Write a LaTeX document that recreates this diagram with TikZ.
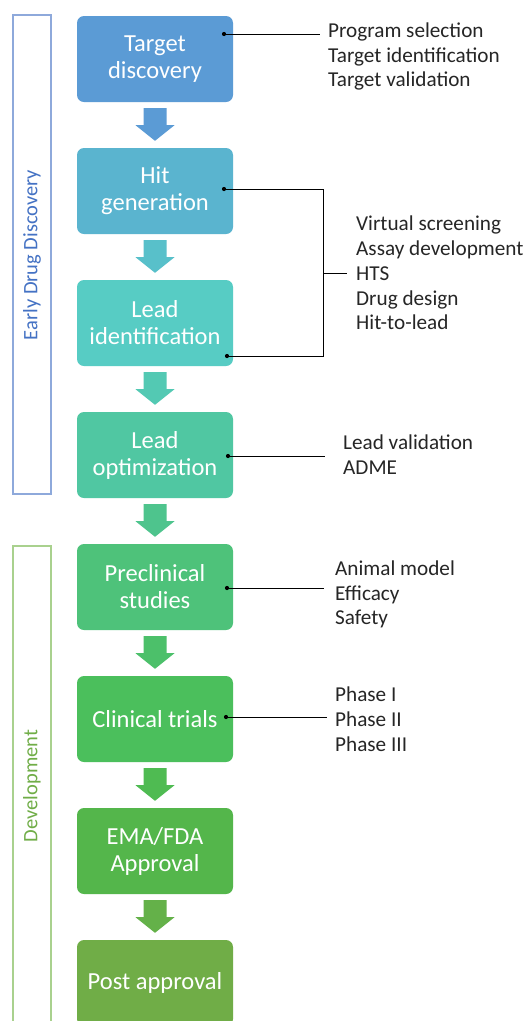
\documentclass[tikz,border=0pt]{standalone}
\usepackage{fontspec}
\setmainfont{Carlito}
\usetikzlibrary{calc}

\definecolor{cA}{HTML}{5B9BD5}
\definecolor{cAB}{HTML}{5AA8D2}
\definecolor{cB}{HTML}{5AB4CF}
\definecolor{cBC}{HTML}{58C0CA}
\definecolor{cC}{HTML}{57CCC4}
\definecolor{cCD}{HTML}{53C9B3}
\definecolor{cD}{HTML}{50C7A2}
\definecolor{cDE}{HTML}{4EC48D}
\definecolor{cE}{HTML}{4EC27A}
\definecolor{cEF}{HTML}{4CC06A}
\definecolor{cF}{HTML}{4BBF5C}
\definecolor{cFG}{HTML}{4FBB52}
\definecolor{cG}{HTML}{54B64B}
\definecolor{cGH}{HTML}{64B149}
\definecolor{cH}{HTML}{70AD47}
\definecolor{phaseblue}{HTML}{4472C4}
\definecolor{phaseblueline}{HTML}{8EA9DB}
\definecolor{phasegreen}{HTML}{70AD47}
\definecolor{phasegreenline}{HTML}{A9D18E}
\definecolor{listtext}{HTML}{262626}

\tikzset{
  stagebox/.style={rounded corners=7pt, minimum width=156pt, minimum height=86pt,
    inner sep=0pt, align=center, text=white,
    font=\fontsize{24.5}{27}\selectfont},
  infolist/.style={anchor=west, align=left, text=listtext, inner ysep=0pt,
    font=\fontsize{21.2}{24.8}\selectfont},
  leader/.style={draw=black, line width=0.9pt},
  hub/.style={circle, fill=black, inner sep=0pt, minimum size=4.2pt},
  phaselabel/.style={rotate=90, font=\fontsize{20.5}{24}\selectfont},
}

\begin{document}
\begin{tikzpicture}[x=1pt, y=-1pt]
  \clip (0,0) rectangle (527,1021);
  \fill[white] (0,0) rectangle (527,1021);

  % phase brackets on the left
  \draw[phaseblueline, line width=1.3pt] (13,15) rectangle (51,494);
  \node[phaselabel, text=phaseblue] (early) at (32,255) {Early Drug Discovery};
  \draw[phasegreenline, line width=1.3pt] (13,1030) -- (13,546) -- (51,546) -- (51,1030);
  \node[phaselabel, text=phasegreen] (devel) at (32,786) {Development};

  % pipeline stages
  \node[stagebox, fill=cA] (b1) at (155,59)  {Target\\discovery};
  \node[stagebox, fill=cB] (b2) at (155,191) {Hit\\generation};
  \node[stagebox, fill=cC] (b3) at (155,323) {Lead\\identification};
  \node[stagebox, fill=cD] (b4) at (155,455) {Lead\\optimization};
  \node[stagebox, fill=cE] (b5) at (155,587) {Preclinical\\studies};
  \node[stagebox, fill=cF] (b6) at (155,719) {Clinical trials};
  \node[stagebox, fill=cG] (b7) at (155,851) {EMA/FDA\\Approval};
  \node[stagebox, fill=cH] (b8) at (155,983) {Post approval};

  % block arrows between consecutive stages
  \foreach \a/\b/\col in {1/2/cA, 2/3/cBC, 3/4/cCD, 4/5/cDE, 5/6/cEF, 6/7/cFG, 7/8/cGH}{
    \fill[\col] ($(b\a.south)+(-11.5,6)$) -- ($(b\a.south)+(11.5,6)$)
      -- ($(b\a.south)+(11.5,23)$) -- ($(b\a.south)+(19.5,23)$)
      -- ($(b\b.north)+(0,-7)$)
      -- ($(b\a.south)+(-19.5,23)$) -- ($(b\a.south)+(-11.5,23)$) -- cycle;
  }

  % detail lists
  \node[infolist, inner xsep=8pt] (t1) at (320,56.5)
    {Program selection\\Target identification\\Target validation};
  \node[infolist, inner xsep=9pt] (t2) at (347,273)
    {Virtual screening\\Assay development\\HTS\\Drug design\\Hit-to-lead};
  \node[infolist, inner xsep=18pt] (t4) at (325,455)
    {Lead validation\\ADME};
  \node[infolist, inner xsep=11pt] (t5) at (324,594.5)
    {Animal model\\Efficacy\\Safety};
  \node[infolist, inner xsep=8pt] (t6) at (327,719)
    {Phase I\\Phase II\\Phase III};

  % connection points on the stages
  \node[hub] (d1) at (224,34) {};
  \node[hub] (d2) at (224,189) {};
  \node[hub] (d3) at (227,356) {};
  \node[hub] (d4) at (228,456) {};
  \node[hub] (d5) at (227,588) {};
  \node[hub] (d6) at (226,717) {};

  % leader lines
  \draw[leader] (d1.center) -- (t1.west |- d1);
  \coordinate (j2) at (323,273);
  \draw[leader] (d2.center) -- (j2 |- d2) -- (j2 |- d3) -- (d3.center);
  \draw[leader] (j2) -- (t2.west);
  \draw[leader] (d4.center) -- (t4.west |- d4);
  \draw[leader] (d5.center) -- (t5.west |- d5);
  \draw[leader] (d6.center) -- (t6.west |- d6);
\end{tikzpicture}
\end{document}
